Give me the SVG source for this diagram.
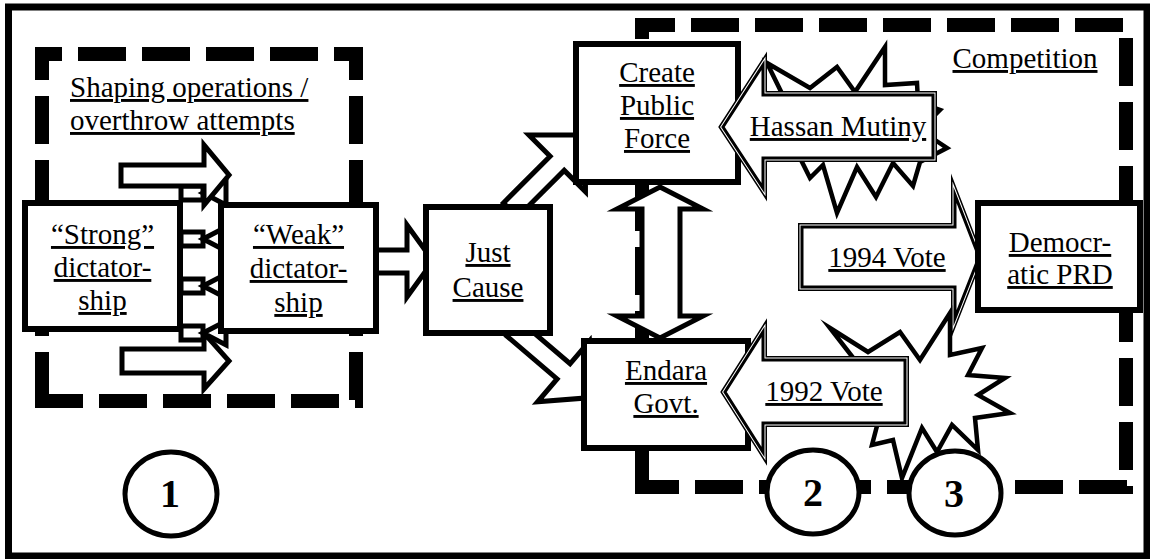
<svg xmlns="http://www.w3.org/2000/svg" xmlns:xlink="http://www.w3.org/1999/xlink" width="1150" height="559" viewBox="0 0 1150 559">
<style>
.frame{fill:#fff;stroke:#000;stroke-width:7}
.dash{fill:none;stroke:#000;stroke-width:14;stroke-dasharray:48 16}
.box{fill:#fff;stroke:#000;stroke-width:6}
.arr{fill:#fff;stroke:#000;stroke-width:5;stroke-linejoin:miter;stroke-miterlimit:10}
.star{fill:#fff;stroke:#000;stroke-width:4.5;stroke-linejoin:miter;stroke-miterlimit:20}
.d1{fill:none;stroke:#000;stroke-width:8;stroke-miterlimit:10}
.d2{fill:none;stroke:#fff;stroke-width:5;stroke-miterlimit:10}
.d3{fill:#fff;stroke:#000;stroke-width:3;stroke-miterlimit:10}
.circ{fill:#fff;stroke:#000;stroke-width:5}
.t{font-family:"Liberation Serif","Times New Roman",serif;font-size:29px;text-decoration:underline;text-anchor:middle;fill:#000}
.ts{font-family:"Liberation Serif","Times New Roman",serif;font-size:29px;text-decoration:underline;fill:#000}
.num{font-family:"Liberation Serif","Times New Roman",serif;font-size:40px;font-weight:bold;text-anchor:middle;fill:#000}
</style>
<defs>
<polygon id="pHassan" points="723,127 763,65 763,95 933,95 933,158 763,158 763,188"/>
<polygon id="p1994" points="802,227 955,227 955,195 979,257 955,318 955,287 802,287"/>
<polygon id="p1992" points="725,392 763,332 763,360 905,360 905,423 763,423 763,452"/>
<polygon id="diag" points="0,-10 66,-10 66,-40 106,0 66,40 66,10 0,10"/>
</defs>
<rect class="frame" x="8.5" y="7" width="1138.5" height="549"/>
<g id="left-region">
<line class="dash" x1="35" y1="54" x2="363" y2="54" stroke-dashoffset="21"/>
<line class="dash" x1="42" y1="47" x2="42" y2="408" stroke-dashoffset="15"/>
<line class="dash" x1="356" y1="47" x2="356" y2="408" stroke-dashoffset="15"/>
<line class="dash" x1="35" y1="401" x2="363" y2="401"/>
<text class="ts" x="70" y="97">Shaping operations /</text>
<text class="ts" x="70" y="130">overthrow attempts</text>
</g>
<g id="right-region">
<line class="dash" x1="635" y1="25" x2="1133" y2="25" stroke-dashoffset="8"/>
<line class="dash" x1="1126" y1="32" x2="1126" y2="494" stroke-dashoffset="58"/>
<line class="dash" x1="635" y1="487" x2="1133" y2="487" stroke-dashoffset="4"/>
<line class="dash" x1="642" y1="18" x2="642" y2="494" stroke-dashoffset="27"/>
<text class="t" x="1025" y="68">Competition</text>
</g>
<g id="connectors">
<g id="small-arrows">
<rect class="arr" x="181" y="186" width="22" height="14"/><polygon class="arr" points="203,193 226,181 226,205"/>
<rect class="arr" x="181" y="232" width="22" height="14"/><polygon class="arr" points="203,239 226,227 226,251"/>
<rect class="arr" x="181" y="279" width="22" height="14"/><polygon class="arr" points="203,286 226,274 226,298"/>
<rect class="arr" x="181" y="326" width="22" height="14"/><polygon class="arr" points="203,333 226,321 226,345"/>
</g>
<polygon class="arr" points="121,165 204,165 204,145 229,175 204,205 204,186 121,186"/>
<polygon class="arr" points="122,349 204,349 204,333 229,361 204,389 204,373 122,373"/>
<polygon class="arr" points="370,250 407,250 407,225 433,261 407,297 407,273 370,273"/>
<use href="#diag" xlink:href="#diag" class="arr" transform="translate(510.5,210) rotate(-45)"/>
<use href="#diag" xlink:href="#diag" class="arr" transform="translate(513.4,328.5) rotate(40.5)"/>
<polygon class="arr" stroke-width="6" points="660,187 703,209 680,209 680,316 703,316 660,338 617,316 642,316 642,209 617,209"/>
</g>
<g id="vote1994">
<use href="#p1994" xlink:href="#p1994" class="d1"/>
<use href="#p1994" xlink:href="#p1994" class="d2"/>
<use href="#p1994" xlink:href="#p1994" class="d3"/>
<text class="t" x="887" y="267">1994 Vote</text>
</g>
<g id="strong">
<rect class="box" x="25" y="203" width="155" height="126"/>
<text class="t" x="102.5" y="244">“Strong”</text>
<text class="t" x="102.5" y="277">dictator-</text>
<text class="t" x="102.5" y="310">ship</text>
</g>
<g id="weak">
<rect class="box" x="221" y="205" width="155" height="126"/>
<text class="t" x="298.5" y="244">“Weak”</text>
<text class="t" x="298.5" y="278">dictator-</text>
<text class="t" x="298.5" y="312">ship</text>
</g>
<g id="justcause">
<rect class="box" x="426" y="207" width="124" height="126"/>
<text class="t" x="488" y="262">Just</text>
<text class="t" x="488" y="297">Cause</text>
</g>
<g id="publicforce">
<rect class="box" x="576" y="44" width="162" height="138"/>
<text class="t" x="657" y="82">Create</text>
<text class="t" x="657" y="115">Public</text>
<text class="t" x="657" y="148">Force</text>
</g>
<g id="endara">
<rect class="box" x="584" y="341" width="164" height="107"/>
<text class="t" x="666" y="380">Endara</text>
<text class="t" x="666" y="413">Govt.</text>
</g>
<g id="democratic">
<rect class="box" stroke-width="7" x="978" y="203" width="162" height="107"/>
<text class="t" x="1060" y="252">Democr-</text>
<text class="t" x="1060" y="284">atic PRD</text>
</g>
<g id="mutiny">
<polygon class="star" points="767,63 810,88 837,67 855,92 885,47 885,85 917,83 918,102 940,110 920,130 947,148 920,162 913,186 893,163 876,197 857,167 837,213 823,165 810,178 800,158 770,150 795,120"/>
<use href="#pHassan" xlink:href="#pHassan" class="d1"/>
<use href="#pHassan" xlink:href="#pHassan" class="d2"/>
<use href="#pHassan" xlink:href="#pHassan" class="d3"/>
<text class="t" x="838" y="136">Hassan Mutiny</text>
</g>
<g id="vote1992">
<polygon class="star" points="830,328 868,352 900,332 920,360 950,313 950,355 982,348 968,375 1005,378 978,395 1010,413 975,418 978,450 952,425 937,452 922,428 902,478 893,440 872,445 878,422 850,405 860,380 845,368 858,364"/>
<use href="#p1992" xlink:href="#p1992" class="d1"/>
<use href="#p1992" xlink:href="#p1992" class="d2"/>
<use href="#p1992" xlink:href="#p1992" class="d3"/>
<text class="t" x="824" y="401">1992 Vote</text>
</g>
<g id="phase1">
<ellipse class="circ" cx="171" cy="494" rx="46" ry="42"/>
<text class="num" x="170" y="507">1</text>
</g>
<g id="phase2">
<ellipse class="circ" cx="813" cy="492" rx="46" ry="42"/>
<text class="num" x="813" y="506">2</text>
</g>
<g id="phase3">
<ellipse class="circ" cx="955" cy="493" rx="46" ry="42"/>
<text class="num" x="954" y="507">3</text>
</g>
</svg>
